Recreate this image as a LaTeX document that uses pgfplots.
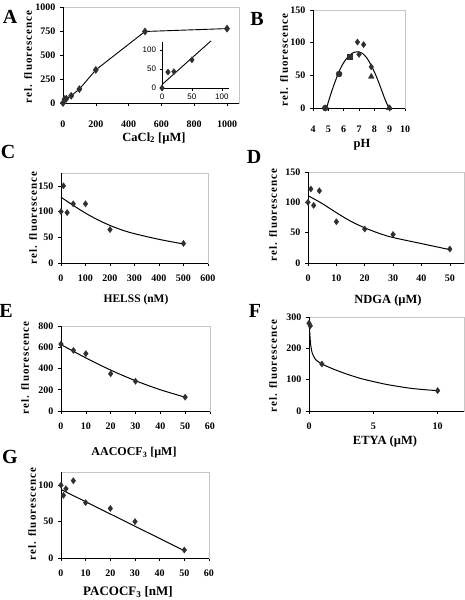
\documentclass[border=0pt]{standalone}
\usepackage{fontspec}
\setmainfont{Liberation Serif}
\newfontfamily\arialf{Liberation Sans}
\usepackage{pgfplots}
\pgfplotsset{compat=1.18}
\definecolor{mk}{HTML}{303030}
\pgfplotsset{
  panel/.style={scale only axis, anchor=south west,
    axis line style={gray!45, line width=0.6pt},
    tick align=outside, tick pos=left, major tick length=3pt,
    tick style={black, line width=0.6pt},
    ymin=0, xmin=0, clip=false,
    /pgf/number format/assume math mode=true,
    /pgf/number format/1000 sep={},
    tick label style={font=\fontsize{10}{12}\selectfont\bfseries},
    xticklabel style={yshift=-5pt},
    yticklabel style={xshift=-1pt},
    execute at end axis={\draw[black, line width=0.8pt] (rel axis cs:0,1) -- (rel axis cs:0,0) -- (rel axis cs:1,0);},
  },
  dots/.style={only marks, mark=diamond*, mark size=3.2pt, mark options={fill=mk, draw=mk, line width=0.2pt}},
  fit/.style={black, line width=1pt, no marks, smooth},
}
\newcommand{\ylab}[2]{\node[rotate=90, font=\fontsize{11}{13}\selectfont\bfseries\addfontfeature{LetterSpace=9}] at (#1) {#2};}
\begin{document}
\begin{tikzpicture}
\path[use as bounding box] (0,0) rectangle (465pt,-600pt);
% ---------- A ----------
\begin{axis}[panel, at={(63pt,-103pt)}, width=176pt, height=96pt,
  xmax=1073, ymax=1000, xtick={0,200,400,600,800,1000}, ytick={0,250,500,750,1000},
  xticklabel style={yshift=-6pt}]
\addplot[black, line width=0.9pt, mark=diamond*, mark size=3.2pt, mark options={fill=mk, draw=mk}]
  coordinates {(0,0)(10,40)(20,45)(50,75)(100,145)(200,345)(500,745)(1000,775)};
\end{axis}
\begin{axis}[scale only axis, anchor=south west, at={(162pt,-88pt)}, width=67pt, height=46pt,
  axis lines*=left, axis line style={black, line width=0.7pt},
  xmin=0, xmax=112, ymin=0, ymax=121, xtick={0,50,100}, ytick={0,50,100},
  tick align=outside, major tick length=2.5pt, tick style={black, line width=0.6pt},
  /pgf/number format/assume math mode=true,
  tick label style={font=\arialf\fontsize{8}{9}\selectfont}, clip=false]
\addplot[dots] coordinates {(0,0)(10,42)(20,43)(50,74)};
\addplot[black, line width=0.9pt, no marks] coordinates {(0,9)(82,124)};
\end{axis}
% ---------- B ----------
\begin{axis}[panel, at={(313pt,-108pt)}, width=92pt, height=98pt,
  xmin=4, xmax=10, ymax=150, xtick={4,5,...,10}, ytick={0,50,100,150},
  xticklabel style={yshift=-6pt}]
\addplot[fit] coordinates {(4.88,0)(5.2,24)(5.5,44)(5.8,61)(6.1,73)(6.4,81)(6.7,85.5)(6.95,86)(7.2,84)(7.5,77)(7.8,65)(8.1,50)(8.4,32)(8.7,13)(8.95,0)};
\addplot[dots] coordinates {(4.8,0)(6.9,101)(7.3,97)(7.0,82)(7.8,63)(9,0)};
\addplot[only marks, mark=*, mark size=3pt, mark options={fill=mk, draw=mk}] coordinates {(5.7,52)(4.8,0)};
\addplot[only marks, mark=square*, mark size=2.5pt, mark options={fill=mk, draw=mk}] coordinates {(6.4,79)};
\addplot[only marks, mark=triangle*, mark size=3.3pt, mark options={fill=mk, draw=mk}] coordinates {(7.8,48)(8.95,0)};
\end{axis}
% ---------- C ----------
\begin{axis}[panel, at={(61pt,-263pt)}, width=147pt, height=90pt,
  xmax=600, ymax=175, xtick={0,100,...,600}, ytick={0,50,100,150}]
\addplot[fit] coordinates {(0,128)(50,112)(100,97)(150,84)(200,73)(250,64)(300,57)(400,46)(500,37)};
\addplot[dots] coordinates {(0,100)(10,150)(25,98)(50,115)(100,115)(200,65)(500,38)};
\end{axis}
% ---------- D ----------
\begin{axis}[panel, at={(308pt,-263pt)}, width=156pt, height=91pt,
  xmax=55, ymax=150, xtick={0,10,...,50}, ytick={0,50,100,150}]
\addplot[fit] coordinates {(0,111)(5,98)(10,83)(15,69)(20,58)(25,49)(30,42)(40,32)(50,22)};
\addplot[dots] coordinates {(0,100)(1,122)(2,95)(4,119)(10,68)(20,56)(30,47)(50,23)};
\end{axis}
% ---------- E ----------
\begin{axis}[panel, at={(61pt,-411pt)}, width=149pt, height=85pt,
  xmax=60, ymax=800, xtick={0,10,...,60}, ytick={0,200,...,800}]
\addplot[fit] coordinates {(0,625)(10,500)(20,385)(30,285)(40,200)(50,130)};
\addplot[dots] coordinates {(0,630)(5,570)(10,540)(20,350)(30,280)(50,130)};
\end{axis}
% ---------- F ----------
\begin{axis}[panel, at={(309pt,-411pt)}, width=155pt, height=94pt,
  xmax=12.05, ymax=300, xtick={0,5,10}, ytick={0,100,200,300}]
\addplot[black, line width=1pt, no marks, smooth, tension=0.4] coordinates {(0,280)(0.05,255)(0.12,215)(0.25,185)(0.5,165)(1,150)(2,132)(3,117)(4,104)(5,94)(6,85)(7,78)(8,72)(9,68)(10,65)};
\addplot[dots] coordinates {(0,280)(0.1,272)(1,150)(10,65)};
\end{axis}
% ---------- G ----------
\begin{axis}[panel, at={(61pt,-558pt)}, width=148pt, height=86pt,
  xmax=60, ymax=118, xtick={0,10,...,60}, ytick={0,50,100}]
\addplot[black, line width=1pt, no marks] coordinates {(0,94)(50,10)};
\addplot[dots] coordinates {(0,100)(1,86)(2,95)(5,106)(10,76)(20,68)(30,50)(50,11)};
\end{axis}
% ---------- panel letters ----------
\begin{scope}[every node/.style={font=\fontsize{20}{22}\selectfont\bfseries}]
\node at (10pt,-17pt) {A};
\node at (257pt,-19pt) {B};
\node at (8pt,-152pt) {C};
\node at (254pt,-157pt) {D};
\node at (6pt,-311pt) {E};
\node at (255pt,-311pt) {F};
\node at (10pt,-457pt) {G};
\end{scope}
% ---------- x labels ----------
\begin{scope}[every node/.style={font=\fontsize{12.5}{14}\selectfont\bfseries}]
\node at (154pt,-138pt) {CaCl\textsubscript{2} [µM]};
\node at (362pt,-145pt) {pH};
\node[font=\fontsize{11.5}{13}\selectfont\bfseries] at (136pt,-300pt) {HELSS (nM)};
\node at (388pt,-300pt) {NDGA (µM)};
\node[font=\fontsize{12}{14}\selectfont\bfseries] at (134pt,-453pt) {AACOCF\textsubscript{3} [µM]};
\node at (385pt,-441pt) {ETYA (µM)};
\node[font=\fontsize{13}{15}\selectfont\bfseries] at (128pt,-592pt) {PACOCF\textsubscript{3} [nM]};
\end{scope}
% ---------- y labels ----------
\ylab{28pt,-57pt}{rel. fluorescence}
\ylab{284pt,-60pt}{rel. fluorescence}
\ylab{33pt,-218pt}{rel. fluorescence}
\ylab{273pt,-215pt}{rel. fluorescence}
\ylab{25pt,-368pt}{rel. fluorescence}
\ylab{273pt,-366pt}{rel. fluorescence}
\ylab{32pt,-514pt}{rel. fluorescence}
\end{tikzpicture}
\end{document}
